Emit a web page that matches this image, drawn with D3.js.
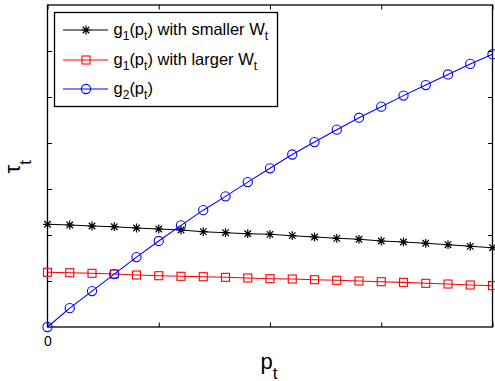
<!DOCTYPE html>
<html>
<head>
<meta charset="utf-8">
<script src="https://cdn.jsdelivr.net/npm/d3@7/dist/d3.min.js"></script>
<style>
  html, body { margin: 0; padding: 0; background: #fff; }
  svg { display: block; font-family: "Liberation Sans", Arial, Helvetica, sans-serif; }
</style>
</head>
<body>
<svg id="chart" width="495" height="381"></svg>
<script>
// p_t sample points (0 to 4 in steps of 0.2)
const pValues = d3.range(21).map(i => +(i * 0.2).toFixed(1));

// g1(p_t) with smaller W_t
const gSmallW = [2.233, 2.217, 2.196, 2.180, 2.152, 2.130, 2.109, 2.072, 2.050, 2.028,
                 2.015, 1.985, 1.957, 1.928, 1.907, 1.870, 1.848, 1.820, 1.789, 1.754, 1.724];
// g1(p_t) with larger W_t
const gLargeW = [1.189, 1.180, 1.167, 1.152, 1.130, 1.115, 1.102, 1.093, 1.080, 1.065,
                 1.050, 1.043, 1.028, 1.015, 1.000, 0.985, 0.971, 0.950, 0.935, 0.913, 0.898];
// g2(p_t)
const g2 = [0, 0.41, 0.78, 1.15, 1.52, 1.87, 2.21, 2.54, 2.84, 3.15,
            3.45, 3.75, 4.02, 4.29, 4.55, 4.79, 5.03, 5.26, 5.49, 5.72, 5.93];

const xTicks = [0, 1, 2, 3, 4];
const xTickLabels = ["0", "", "", "", ""];
const yTicks = [1, 2, 3, 4, 5, 6];

const svg = d3.select("#chart");
const plotLeft = 47.5, plotRight = 492.5, plotTop = 5, plotBottom = 327;

const x = d3.scaleLinear().domain([0, 4]).range([plotLeft, plotRight]);
const y = d3.scaleLinear().domain([0, 7]).range([plotBottom, plotTop]);

// axes with inward ticks on all four sides
const tickLen = 4.5;
svg.append("g").attr("transform", `translate(0,${plotBottom})`)
  .call(d3.axisBottom(x).tickValues(xTicks).tickSizeInner(-tickLen).tickSizeOuter(0)
        .tickFormat((d, i) => xTickLabels[i]).tickPadding(9))
  .call(g => g.select(".domain").remove());
svg.append("g").attr("transform", `translate(0,${plotTop})`)
  .call(d3.axisTop(x).tickValues(xTicks).tickSizeInner(-tickLen).tickSizeOuter(0).tickFormat(""))
  .call(g => g.select(".domain").remove());
svg.append("g").attr("transform", `translate(${plotLeft},0)`)
  .call(d3.axisLeft(y).tickValues(yTicks).tickSizeInner(-tickLen).tickSizeOuter(0).tickFormat(""))
  .call(g => g.select(".domain").remove());
svg.append("g").attr("transform", `translate(${plotRight},0)`)
  .call(d3.axisRight(y).tickValues(yTicks).tickSizeInner(-tickLen).tickSizeOuter(0).tickFormat(""))
  .call(g => g.select(".domain").remove());

svg.selectAll(".tick text").attr("font-size", 14).attr("fill", "#000")
  .attr("font-family", "Liberation Sans, Arial, sans-serif");
svg.selectAll(".tick line").attr("stroke", "#000");

// plot frame
svg.append("rect")
  .attr("x", plotLeft).attr("y", plotTop)
  .attr("width", plotRight - plotLeft).attr("height", plotBottom - plotTop)
  .attr("fill", "none").attr("stroke", "#000").attr("stroke-width", 1.3);

const line = d3.line().x((d, i) => x(pValues[i])).y(d => y(d));

// marker drawers
function star(g, cx, cy, color) {
  const r = 4.4, d = r * 0.74;
  g.append("path")
    .attr("d", `M${cx - r},${cy}L${cx + r},${cy}M${cx},${cy - r}L${cx},${cy + r}` +
               `M${cx - d},${cy - d}L${cx + d},${cy + d}M${cx - d},${cy + d}L${cx + d},${cy - d}`)
    .attr("stroke", color).attr("stroke-width", 1.2).attr("fill", "none");
}
function square(g, cx, cy, color) {
  const s = 8;
  g.append("rect").attr("x", cx - s / 2).attr("y", cy - s / 2)
    .attr("width", s).attr("height", s)
    .attr("fill", "none").attr("stroke", color).attr("stroke-width", 1.1);
}
function circle(g, cx, cy, color) {
  g.append("circle").attr("cx", cx).attr("cy", cy).attr("r", 4.6)
    .attr("fill", "none").attr("stroke", color).attr("stroke-width", 1.1);
}

const series = [
  { values: gSmallW, color: "#000000", marker: star, label: ["g", "1", "(p", "t", ") with smaller W", "t"] },
  { values: gLargeW, color: "#ff0000", marker: square, label: ["g", "1", "(p", "t", ") with larger W", "t"] },
  { values: g2, color: "#0000ff", marker: circle, label: ["g", "2", "(p", "t", ")"] }
];

series.forEach(s => {
  const g = svg.append("g");
  g.append("path").datum(s.values).attr("d", line)
    .attr("fill", "none").attr("stroke", s.color).attr("stroke-width", 1.1);
  s.values.forEach((v, i) => s.marker(g, x(pValues[i]), y(v), s.color));
});

// legend
const leg = svg.append("g");
leg.append("rect").attr("x", 54.5).attr("y", 12.5).attr("width", 223).attr("height", 94)
  .attr("fill", "#fff").attr("stroke", "#000").attr("stroke-width", 1.3);
const rowY = [30, 60, 89];
series.forEach((s, k) => {
  const cy = rowY[k];
  leg.append("line").attr("x1", 63).attr("x2", 108).attr("y1", cy).attr("y2", cy)
    .attr("stroke", s.color).attr("stroke-width", 1.1);
  s.marker(leg, 86, cy, s.color);
  const t = leg.append("text").attr("x", 113.5).attr("y", cy + 4.5)
    .attr("font-size", 16.5).attr("fill", "#000");
  s.label.forEach((part, j) => {
    const sub = j % 2 === 1;
    t.append("tspan").text(part)
      .attr("font-size", sub ? 12 : 16.5)
      .attr("dy", sub ? 5.5 : (j > 0 ? -5.5 : 0));
  });
});

// axis titles
const xt = svg.append("text").attr("x", 260.5).attr("y", 368.5).attr("font-size", 22).attr("fill", "#000");
xt.append("tspan").text("p");
xt.append("tspan").text("t").attr("font-size", 17).attr("dy", 10);

const yt = svg.append("text").attr("transform", "translate(20,173.5) rotate(-90)")
  .attr("font-size", 22).attr("fill", "#000");
yt.append("tspan").text("τ");
yt.append("tspan").text("t").attr("font-size", 17).attr("dy", 11);
</script>
</body>
</html>
